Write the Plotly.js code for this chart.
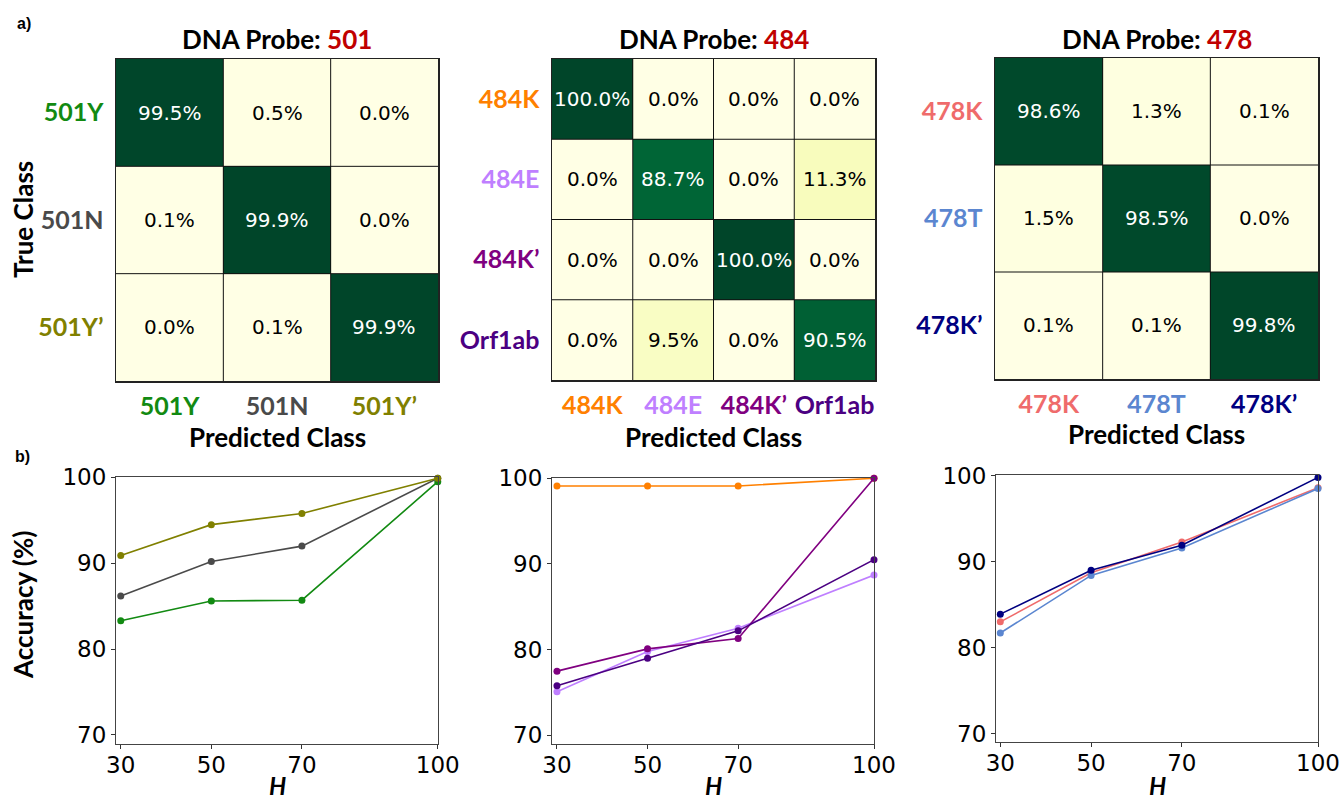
<!DOCTYPE html>
<html>
<head>
<meta charset="utf-8">
<script src="https://cdn.plot.ly/plotly-3.0.1.min.js"></script>
<style>html,body{margin:0;padding:0;background:#fff;} #chart{width:1343px;height:801px;}</style>
</head>
<body>
<div id="chart"></div>
<script>
// ---------- data ----------
const classes501 = ['501Y', '501N', '501Y\u2019'];
const colors501 = ['#128a12', '#4a4a4a', '#808000'];
const cm501 = [[99.5, 0.5, 0.0], [0.1, 99.9, 0.0], [0.0, 0.1, 99.9]];

const classes484 = ['484K', '484E', '484K\u2019', 'Orf1ab'];
const colors484 = ['#ff8000', '#bf7fff', '#800080', '#4b0082'];
const cm484 = [[100.0, 0.0, 0.0, 0.0], [0.0, 88.7, 0.0, 11.3], [0.0, 0.0, 100.0, 0.0], [0.0, 9.5, 0.0, 90.5]];

const classes478 = ['478K', '478T', '478K\u2019'];
const colors478 = ['#ef6b6b', '#5b86d0', '#000080'];
const cm478 = [[98.6, 1.3, 0.1], [1.5, 98.5, 0.0], [0.1, 0.1, 99.8]];

const H = [30, 50, 70, 100];
const acc501Y = [83.3, 85.6, 85.7, 99.5];
const acc501N = [86.2, 90.2, 92.0, 99.9];
const acc501Yp = [90.9, 94.5, 95.8, 99.9];
const acc484K = [99.1, 99.1, 99.1, 100.0];
const acc484E = [75.1, 79.8, 82.5, 88.7];
const acc484Kp = [77.5, 80.1, 81.3, 100.0];
const accOrf1ab = [75.8, 79.0, 82.2, 90.5];
const acc478K = [83.0, 88.7, 92.3, 98.6];
const acc478T = [81.7, 88.4, 91.6, 98.5];
const acc478Kp = [83.9, 89.0, 91.9, 99.8];

const probes = ['501', '484', '478'];
const yTicks = [70, 80, 90, 100];

// ---------- layout helpers ----------
const W = 1343, HT = 801;
const px = x => x / W;
const py = y => 1 - y / HT;

const YlGn = [
  [0.0, '#ffffe5'], [0.125, '#f7fcb9'], [0.25, '#d9f0a3'], [0.375, '#addd8e'],
  [0.5, '#78c679'], [0.625, '#41ab5d'], [0.75, '#238443'], [0.875, '#006837'], [1.0, '#004529']
];

const LBL = 'Lato, "Open Sans", sans-serif';
const NUM = '"DejaVu Sans", sans-serif';

// pixel boxes [x0,x1,y0,y1]
const heatBoxes = [[116, 438, 59, 381], [552, 875, 59, 380], [995, 1318, 58, 379]];
const lineBoxes = [[116, 438, 477, 744], [552, 874, 478, 744], [996, 1318, 475, 742]];
const xRanges = [[28.95, 100.05], [28.9, 100.0], [29.05, 100.0]];
const yRanges = [[68.95, 100.05], [69.0, 100.03], [69.03, 100.08]];

const cms = [cm501, cm484, cm478];
const classSets = [classes501, classes484, classes478];
const colorSets = [colors501, colors484, colors478];
const accSets = [
  [acc501Y, acc501N, acc501Yp],
  [acc484K, acc484E, acc484Kp, accOrf1ab],
  [acc478K, acc478T, acc478Kp]
];

const data = [];
const layout = {
  width: W, height: HT,
  margin: {l: 0, r: 0, t: 0, b: 0},
  paper_bgcolor: '#ffffff',
  plot_bgcolor: '#ffffff',
  showlegend: false,
  shapes: [],
  annotations: []
};

function colored(labels, colors) {
  return labels.map((c, i) => '<b><span style="color:' + colors[i] + '">' + c + '</span></b>');
}

for (let k = 0; k < 3; k++) {
  const n = classSets[k].length;
  const idx = classSets[k].map((_, i) => i);
  const xa = 'x' + (k + 1), ya = 'y' + (k + 1);
  const xKey = 'xaxis' + (k === 0 ? '' : k + 1), yKey = 'yaxis' + (k === 0 ? '' : k + 1);
  data.push({
    type: 'heatmap', z: cms[k], x: idx, y: idx, xaxis: xa, yaxis: ya,
    colorscale: YlGn, zmin: 0, zmax: 100, showscale: false,
    hoverinfo: 'skip'
  });
  // cell value labels
  cms[k].forEach((row, r) => row.forEach((v, c) => {
    layout.annotations.push({
      xref: xa, yref: ya, x: c, y: r, showarrow: false, xanchor: 'center', yanchor: 'middle',
      text: v.toFixed(1) + '%',
      font: {family: NUM, size: 20, color: v > 50 ? '#ffffff' : '#000000'}
    });
  }));
  const b = heatBoxes[k];
  layout[xKey] = {
    domain: [px(b[0]), px(b[1])], anchor: ya, range: [-0.5, n - 0.5],
    tickmode: 'array', tickvals: idx, ticktext: colored(classSets[k], colorSets[k]),
    tickfont: {family: LBL, size: 25}, ticks: '', ticklabelstandoff: 2,
    showline: true, mirror: true, linecolor: '#222', linewidth: 1.5,
    showgrid: false, zeroline: false, fixedrange: true
  };
  layout[yKey] = {
    domain: [py(b[3]), py(b[2])], anchor: xa, range: [n - 0.5, -0.5],
    tickmode: 'array', tickvals: idx, ticktext: colored(classSets[k], colorSets[k]),
    tickfont: {family: LBL, size: 25}, ticks: '', ticklabelstandoff: 6,
    showline: true, mirror: true, linecolor: '#222', linewidth: 1.5,
    showgrid: false, zeroline: false, fixedrange: true
  };
  for (let i = 1; i < n; i++) {
    layout.shapes.push({type: 'line', xref: xa, yref: ya, x0: i - 0.5, x1: i - 0.5, y0: -0.5, y1: n - 0.5, line: {color: '#111', width: 1}});
    layout.shapes.push({type: 'line', xref: xa, yref: ya, y0: i - 0.5, y1: i - 0.5, x0: -0.5, x1: n - 0.5, line: {color: '#111', width: 1}});
  }
  const cx = (b[0] + b[1]) / 2;
  layout.annotations.push({
    xref: 'paper', yref: 'paper', x: px(cx), y: py(39), xanchor: 'center', yanchor: 'middle', showarrow: false,
    text: '<b>DNA Probe: <span style="color:#c00000">' + probes[k] + '</span></b>',
    font: {family: LBL, size: 26, color: '#000'}
  });
  layout.annotations.push({
    xref: 'paper', yref: 'paper', x: px(cx), y: py(k === 2 ? 434 : 437), xanchor: 'center', yanchor: 'middle', showarrow: false,
    text: '<b>Predicted Class</b>', font: {family: LBL, size: 26, color: '#000'}
  });

  // line charts
  const lb = lineBoxes[k];
  const lx = 'x' + (k + 4), ly = 'y' + (k + 4);
  const lxKey = 'xaxis' + (k + 4), lyKey = 'yaxis' + (k + 4);
  accSets[k].forEach((vals, i) => {
    data.push({
      type: 'scatter', mode: 'lines+markers', x: H, y: vals, xaxis: lx, yaxis: ly,
      line: {color: colorSets[k][i], width: 1.6}, marker: {color: colorSets[k][i], size: 7},
      cliponaxis: false, hoverinfo: 'skip'
    });
  });
  layout[lxKey] = {
    domain: [px(lb[0]), px(lb[1])], anchor: ly, range: xRanges[k],
    tickmode: 'array', tickvals: H, ticks: 'outside', ticklen: 4, tickcolor: '#333',
    tickfont: {family: NUM, size: 23, color: '#000'}, ticklabelstandoff: -4,
    showline: true, mirror: true, linecolor: '#444', linewidth: 1,
    showgrid: false, zeroline: false, fixedrange: true
  };
  layout[lyKey] = {
    domain: [py(lb[3]), py(lb[2])], anchor: lx, range: yRanges[k],
    tickmode: 'array', tickvals: yTicks, ticks: 'outside', ticklen: 4, tickcolor: '#333',
    tickfont: {family: NUM, size: 23, color: '#000'},
    showline: true, mirror: true, linecolor: '#444', linewidth: 1,
    showgrid: false, zeroline: false, fixedrange: true
  };
  layout.annotations.push({
    xref: 'paper', yref: 'paper', x: px((lb[0] + lb[1]) / 2), y: 0, xanchor: 'center', yanchor: 'bottom', showarrow: false,
    borderpad: 0, text: '<b><i>H</i></b>', font: {family: LBL, size: 24, color: '#000'}
  });
}

layout.annotations.push({
  xref: 'paper', yref: 'paper', x: px(23), y: py(220), xanchor: 'center', yanchor: 'middle', showarrow: false,
  textangle: -90, text: '<b>True Class</b>', font: {family: LBL, size: 26, color: '#000'}
});
layout.annotations.push({
  xref: 'paper', yref: 'paper', x: px(23), y: py(605), xanchor: 'center', yanchor: 'middle', showarrow: false,
  textangle: -90, text: '<b>Accuracy (%)</b>', font: {family: LBL, size: 26, color: '#000'}
});
layout.annotations.push({
  xref: 'paper', yref: 'paper', x: px(24), y: py(24), xanchor: 'center', yanchor: 'middle', showarrow: false,
  text: '<b>a)</b>', font: {family: '"Liberation Sans", Arial, sans-serif', size: 16, color: '#000'}
});
layout.annotations.push({
  xref: 'paper', yref: 'paper', x: px(22), y: py(457), xanchor: 'center', yanchor: 'middle', showarrow: false,
  text: '<b>b)</b>', font: {family: '"Liberation Sans", Arial, sans-serif', size: 16, color: '#000'}
});

Plotly.newPlot('chart', data, layout, {staticPlot: true, displayModeBar: false});
</script>
</body>
</html>
